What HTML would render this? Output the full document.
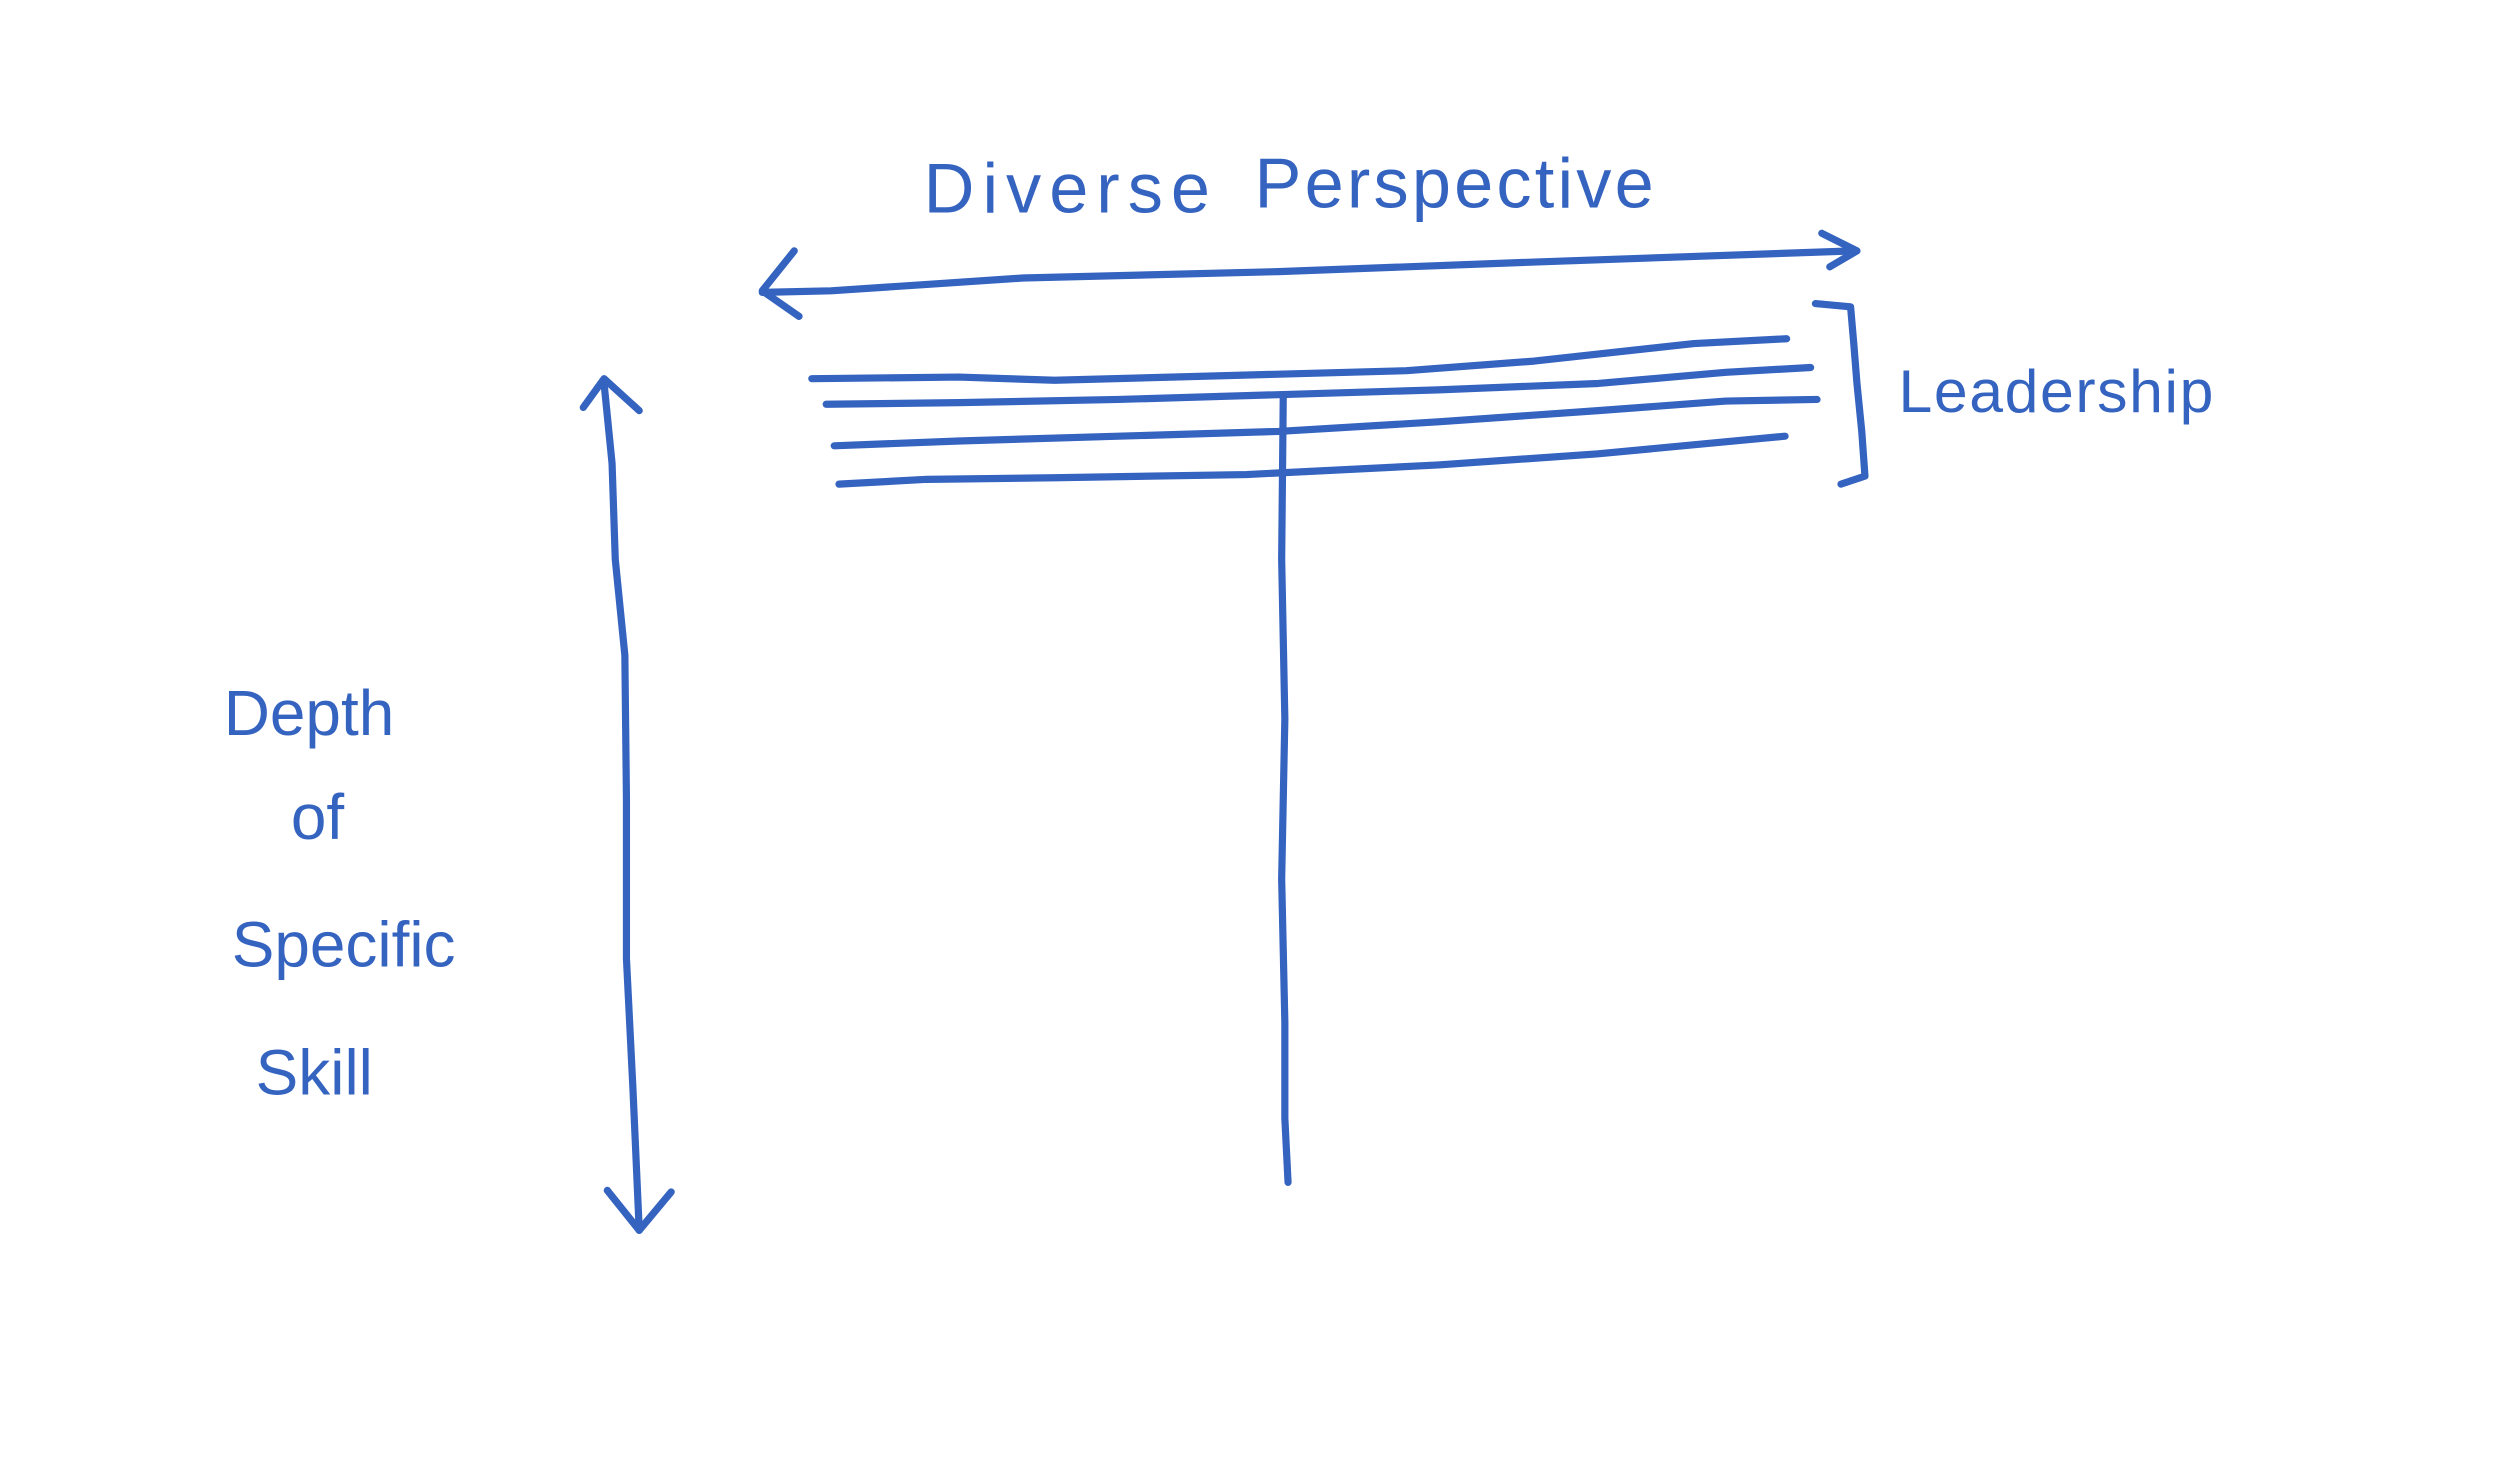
<!DOCTYPE html>
<html><head><meta charset="utf-8"><style>
html,body{margin:0;padding:0;background:#fff;}
svg{display:block;}
text{font-family:"Liberation Sans",sans-serif;fill:#3563c0;}
</style></head><body>
<svg width="2493" height="1462" viewBox="0 0 1560 915" preserveAspectRatio="none" xmlns="http://www.w3.org/2000/svg">
<g fill="none" stroke="#3563c0" stroke-width="4.5" stroke-linecap="round" stroke-linejoin="round">
<path d="M477,183 L520,182 L580,178 L640,174 L800,170 L960,164 L1160,157"/>
<path d="M497,157 L477,182 L500,198"/>
<path d="M1140,146 L1162,157 L1145,167"/>
<path d="M508,237 L600,236 L660,238 L770,235 L880,232 L960,226 L1060,215 L1118,212"/>
<path d="M517,253 L600,252 L700,250 L800,247 L900,244 L1000,240 L1080,233 L1133,230"/>
<path d="M522,279 L600,276 L700,273 L800,270 L900,264 L1000,257 L1080,251 L1137,250"/>
<path d="M525,303 L580,300 L660,299 L780,297 L900,291 L1000,284 L1117,273"/>
<path d="M803,248 L802,350 L804,450 L802,550 L804,640 L804,700 L806,740"/>
<path d="M1136,190 L1158,192 L1160,215 L1162,240 L1165,270 L1167,298 L1152,303"/>
<path d="M378,240 L383,290 L385,350 L391,410 L392,500 L392,600 L396,680 L400,770"/>
<path d="M365,255 L378,237 L400,257"/>
<path d="M380,745 L400,770 L420,746"/>
</g>
<text x="578" y="133" font-size="44" letter-spacing="5">Diverse</text>
<text x="785" y="130" font-size="44" letter-spacing="2">Perspective</text>
<text x="1188" y="258" font-size="38" letter-spacing="1">Leadership</text>
<text x="140" y="460" font-size="40">Depth</text>
<text x="182" y="525" font-size="40">of</text>
<text x="145" y="605" font-size="40">Specific</text>
<text x="160" y="685" font-size="40">Skill</text>
</svg>
</body></html>
